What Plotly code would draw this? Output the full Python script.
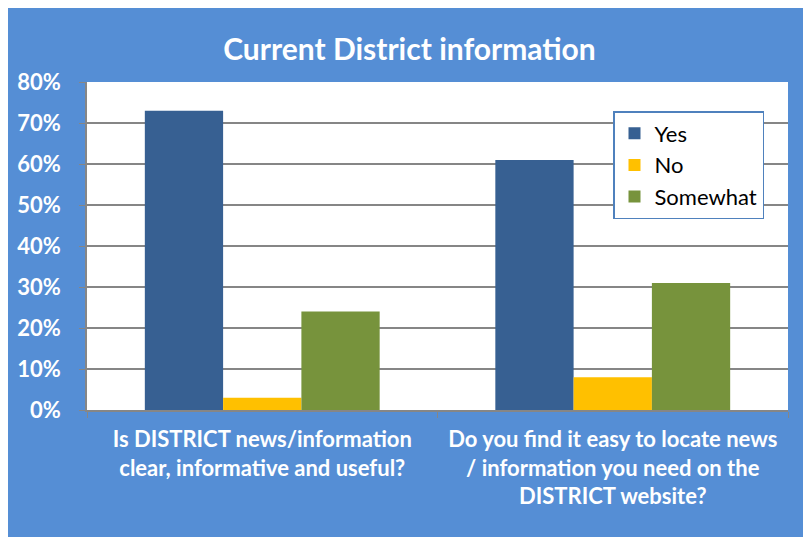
import plotly.graph_objects as go

categories = ["Is DISTRICT news/information<br>clear, informative and useful?",
              "Do you find it easy to locate news<br>/ information you need on the<br>DISTRICT website?"]
series_names = ["Yes", "No", "Somewhat"]
yes_vals = [0.73, 0.61]
no_vals = [0.03, 0.08]
somewhat_vals = [0.24, 0.31]
y_ticks = [0, 0.1, 0.2, 0.3, 0.4, 0.5, 0.6, 0.7, 0.8]
y_tick_labels = ["0%", "10%", "20%", "30%", "40%", "50%", "60%", "70%", "80%"]

colors = ["#376092", "#FFC000", "#77933C"]
OFF = 8  # page body margin
W, H = 811 - OFF, 537 - OFF
# plot area in screen pixels
SL, SR, ST, SB = 87, 788, 82, 410
L, T = SL - OFF, ST - OFF
R, B = W - (SR - OFF), H - (SB - OFF)
pw, ph = W - L - R, H - T - B
FONT = "Lato, Open Sans, sans-serif"


def px_x(p):
    return (p - SL) / pw


def px_y(p):
    return (SB - p) / ph


fig = go.Figure()
for i, (name, vals) in enumerate(zip(series_names, [yes_vals, no_vals, somewhat_vals])):
    fig.add_trace(go.Bar(x=categories, y=vals, name=name, marker_color=colors[i],
                         marker_line_width=0, legendgroup=name))

bg = "#558ED5"
fig.update_layout(
    width=W, height=H,
    margin=dict(l=L, r=R, t=T, b=B, autoexpand=False),
    paper_bgcolor=bg, plot_bgcolor="white",
    barmode="group", bargap=0.33, bargroupgap=0,
    title=dict(text="Current District information", x=0.5, xanchor="center",
               y=1 - (49 - OFF) / H, yanchor="middle",
               font=dict(family=FONT, size=30, color="white", weight="bold")),
    legend=dict(x=px_x(613), y=px_y(111), xanchor="left", yanchor="top",
                bgcolor="white", bordercolor="#4F81BD", borderwidth=1.5,
                font=dict(family=FONT, size=22, color="black"),
                traceorder="grouped", tracegroupgap=0),
    font=dict(family=FONT),
)
fig.update_yaxes(range=[0, 0.8], tickvals=y_ticks, ticktext=y_tick_labels,
                 showgrid=True, gridcolor="#868686", gridwidth=1.5,
                 showline=True, linecolor="#868686", linewidth=1.5,
                 ticks="outside", ticklen=6, tickcolor="#868686", ticklabelstandoff=14,
                 tickfont=dict(family=FONT, size=22, color="white", weight="bold"),
                 zeroline=False, automargin=False)
fig.update_xaxes(showline=True, linecolor="#868686", linewidth=1.5,
                 ticks="outside", tickson="boundaries", ticklen=6, tickcolor="#868686",
                 ticklabelstandoff=9, automargin=False,
                 tickfont=dict(family=FONT, size=22, color="white", weight="bold"))
fig.write_html("out.html")
